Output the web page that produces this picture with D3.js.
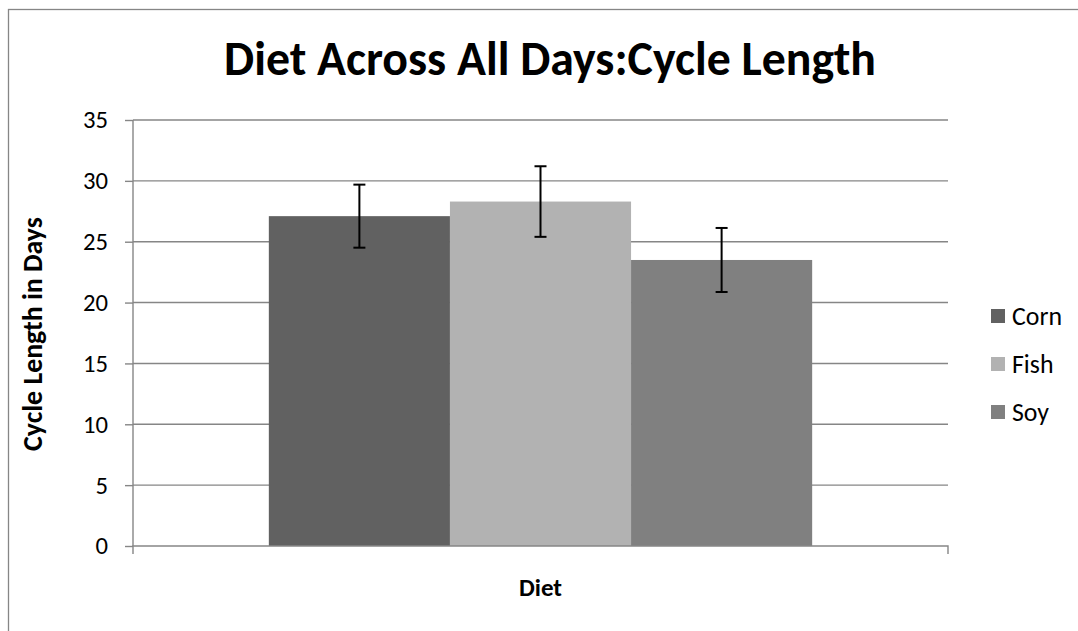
<!DOCTYPE html>
<html><head><meta charset="utf-8">
<script src="https://cdn.jsdelivr.net/npm/d3@7"></script>
<style>body{margin:0;background:#fff;overflow:hidden} text{font-family:Carlito,Lato,sans-serif}</style>
</head><body><svg id="c" width="1078" height="631"></svg>
<script>
const categories = ["Diet"];
const series = ["Corn", "Fish", "Soy"];
const values = [27.1, 28.3, 23.5];
const errors = [2.59, 2.9, 2.63];
const colors = ["#616161", "#b2b2b2", "#808080"];
const yTicks = [0, 5, 10, 15, 20, 25, 30, 35];
const titleText = "Diet Across All Days:Cycle Length";
const yTitleText = "Cycle Length in Days";
const xTitleText = "Diet";

const svg = d3.select("#c");
const W = 1078, H = 631;
const plot = {left: 133, right: 948, top: 120, bottom: 546};
const grid = "#868686";

function fit(sel, target) {
  const len = sel.node().getComputedTextLength();
  const fs = parseFloat(sel.attr("font-size"));
  sel.attr("font-size", fs * target / len);
  return fs * target / len;
}

svg.append("rect").attr("x", 0).attr("y", 0).attr("width", W).attr("height", H).attr("fill", "#fff");
svg.append("rect").attr("x", 8.5).attr("y", 9.5).attr("width", 1080).attr("height", 640)
  .attr("fill", "none").attr("stroke", grid).attr("stroke-width", 1.3);

const x = d3.scaleBand().domain(categories).range([plot.left, plot.right]);
const xs = d3.scaleBand().domain(series)
  .range([x.bandwidth() / 6, x.bandwidth() * 5 / 6]);
const y = d3.scaleLinear().domain([0, 35]).range([plot.bottom, plot.top]);

// gridlines
svg.append("g").selectAll("line").data(yTicks.filter(d => d > 0)).join("line")
  .attr("x1", plot.left).attr("x2", plot.right)
  .attr("y1", d => y(d)).attr("y2", d => y(d))
  .attr("stroke", grid).attr("stroke-width", 1.4);

// bars
const data = series.map((s, i) => ({s, v: values[i], e: errors[i], c: colors[i]}));
const g = svg.append("g").attr("transform", `translate(${x(categories[0])},0)`);
g.selectAll("rect").data(data).join("rect")
  .attr("x", d => xs(d.s)).attr("width", xs.bandwidth())
  .attr("y", d => y(d.v)).attr("height", d => y(0) - y(d.v))
  .attr("fill", d => d.c);

// error bars
const eb = g.selectAll("g.err").data(data).join("g").attr("class", "err");
eb.append("line")
  .attr("x1", d => xs(d.s) + xs.bandwidth() / 2).attr("x2", d => xs(d.s) + xs.bandwidth() / 2)
  .attr("y1", d => y(d.v + d.e)).attr("y2", d => y(d.v - d.e))
  .attr("stroke", "#000").attr("stroke-width", 2);
[1, -1].forEach(sg => {
  eb.append("line")
    .attr("x1", d => xs(d.s) + xs.bandwidth() / 2 - 6).attr("x2", d => xs(d.s) + xs.bandwidth() / 2 + 6)
    .attr("y1", d => y(d.v + sg * d.e)).attr("y2", d => y(d.v + sg * d.e))
    .attr("stroke", "#000").attr("stroke-width", 2);
});

// y axis
const ya = svg.append("g").attr("transform", `translate(${plot.left},0)`)
  .call(d3.axisLeft(y).tickValues(yTicks).tickSize(8).tickPadding(17).tickFormat(d3.format("d")));
ya.select(".domain").attr("stroke", grid).attr("stroke-width", 1.4).attr("d", `M0,${plot.top}V${plot.bottom}`);
ya.selectAll(".tick line").attr("stroke", grid).attr("stroke-width", 1.4);
ya.selectAll(".tick text").attr("font-size", 24).attr("fill", "#000")
  .attr("font-family", "Carlito,Lato,sans-serif");
{
  const t = ya.selectAll(".tick text").filter(d => d === 35);
  const len = t.node().getComputedTextLength();
  ya.selectAll(".tick text").attr("font-size", 24 * 25 / len);
}

// x axis
const xa = svg.append("g").attr("transform", `translate(0,${plot.bottom})`)
  .call(d3.axisBottom(x).tickSize(0).tickFormat(""));
xa.select(".domain").attr("stroke", grid).attr("stroke-width", 1.4)
  .attr("d", `M${plot.left},8V0H${plot.right}V8`);

// titles
const tt = svg.append("text").attr("x", 550).attr("y", 75).attr("text-anchor", "middle")
  .attr("font-weight", "bold").attr("font-size", 40).text(titleText);
fit(tt, 652);

const xt = svg.append("text").attr("x", (plot.left + plot.right) / 2).attr("y", 596)
  .attr("text-anchor", "middle").attr("font-weight", "bold").attr("font-size", 24).text(xTitleText);
fit(xt, 43);

const yt = svg.append("text").attr("transform", `translate(42,${(plot.top + plot.bottom) / 2 + 1}) rotate(-90)`)
  .attr("text-anchor", "middle").attr("font-weight", "bold").attr("font-size", 24).text(yTitleText);
fit(yt, 234);

// legend
const legY = [316, 364, 412];
const lg = svg.append("g").selectAll("g").data(data).join("g")
  .attr("transform", (d, i) => `translate(991,${legY[i]})`);
lg.append("rect").attr("x", 0).attr("y", -7).attr("width", 14).attr("height", 14).attr("fill", d => d.c);
const lt = lg.append("text").attr("x", 21).attr("y", 0).attr("dy", "0.35em")
  .attr("font-size", 24).text(d => d.s);
{
  const len = lt.filter(d => d.s === "Corn").node().getComputedTextLength();
  lt.attr("font-size", 24 * 50 / len);
}
</script></body></html>
